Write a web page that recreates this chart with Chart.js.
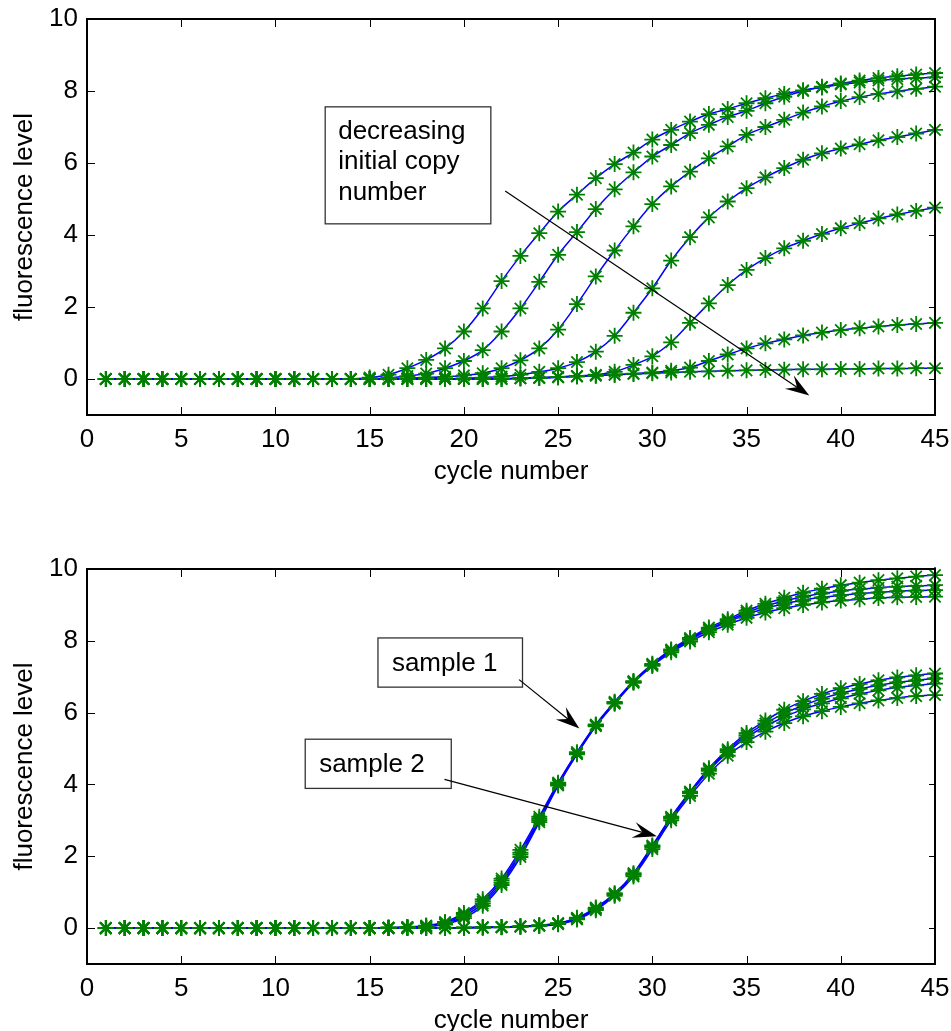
<!DOCTYPE html>
<html><head><meta charset="utf-8">
<script src="https://cdn.jsdelivr.net/npm/chart.js@4"></script>
<style>
html,body{margin:0;padding:0;background:#fff;overflow:hidden;width:951px;height:1031px}
canvas{position:absolute;left:0}
#c1{top:0}
#c2{top:540px}
</style></head><body>
<canvas id="c1" width="951" height="485"></canvas>
<canvas id="c2" width="951" height="494"></canvas>
<script>
const cycles = [1,2,3,4,5,6,7,8,9,10,11,12,13,14,15,16,17,18,19,20,21,22,23,24,25,26,27,28,29,30,31,32,33,34,35,36,37,38,39,40,41,42,43,44,45];
const xTicks = [0,5,10,15,20,25,30,35,40,45];
const yTicks = [0,2,4,6,8,10];

// top panel: decreasing initial copy number
const topA = [0,0,0,0,0,0,0,0,0,0,0,0,0,0,0.04,0.12,0.3,0.53,0.85,1.32,1.96,2.72,3.42,4.05,4.65,5.12,5.58,5.97,6.29,6.65,6.92,7.15,7.36,7.5,7.66,7.8,7.92,8.02,8.1,8.18,8.24,8.29,8.33,8.36,8.38];
const topB = [0,0,0,0,0,0,0,0,0,0,0,0,0,0,0,0.03,0.08,0.15,0.3,0.5,0.8,1.32,1.96,2.7,3.45,4.08,4.72,5.27,5.74,6.18,6.5,6.83,7.06,7.28,7.45,7.66,7.84,8.0,8.12,8.21,8.29,8.36,8.41,8.46,8.5];
const topC = [0,0,0,0,0,0,0,0,0,0,0,0,0,0,0,0,0.02,0.04,0.06,0.1,0.16,0.3,0.52,0.85,1.37,2.08,2.85,3.57,4.24,4.86,5.35,5.76,6.13,6.46,6.78,7.0,7.2,7.4,7.57,7.72,7.83,7.92,7.99,8.06,8.12];
const topD = [0,0,0,0,0,0,0,0,0,0,0,0,0,0,0,0,0,0,0,0.02,0.04,0.07,0.12,0.2,0.3,0.47,0.76,1.2,1.84,2.52,3.29,3.94,4.49,4.93,5.3,5.6,5.86,6.09,6.27,6.4,6.52,6.63,6.72,6.82,6.92];
const topE = [0,0,0,0,0,0,0,0,0,0,0,0,0,0,0,0,0,0,0,0,0,0.01,0.02,0.03,0.05,0.08,0.12,0.2,0.39,0.63,1.02,1.56,2.1,2.61,3.03,3.36,3.63,3.84,4.03,4.19,4.33,4.46,4.57,4.67,4.76];
const topF = [0,0,0,0,0,0,0,0,0,0,0,0,0,0,0,0,0,0,0,0,0,0,0.02,0.03,0.05,0.07,0.09,0.12,0.15,0.18,0.23,0.32,0.5,0.68,0.85,0.99,1.1,1.21,1.29,1.36,1.41,1.46,1.5,1.53,1.56];
const topG = [0,0,0,0,0,0,0,0,0,0,0,0,0,0,0,0,0,0,0,0,0,0,0.02,0.04,0.06,0.08,0.1,0.12,0.14,0.16,0.18,0.2,0.21,0.23,0.24,0.25,0.26,0.27,0.27,0.28,0.28,0.29,0.29,0.3,0.3];

// bottom panel: sample 1 and sample 2 replicates
const s1a = [0,0,0,0,0,0,0,0,0,0,0,0,0,0,0,0.01,0.03,0.07,0.17,0.42,0.8,1.38,2.18,3.1,4.05,4.9,5.67,6.3,6.88,7.36,7.76,8.08,8.37,8.6,8.84,9.03,9.2,9.34,9.45,9.55,9.62,9.69,9.74,9.79,9.83];
const s1b = [0,0,0,0,0,0,0,0,0,0,0,0,0,0,0,0.01,0.02,0.06,0.14,0.38,0.74,1.32,2.1,3.04,4.02,4.87,5.65,6.28,6.86,7.34,7.74,8.05,8.33,8.56,8.79,8.97,9.11,9.23,9.32,9.39,9.44,9.48,9.51,9.53,9.55];
const s1c = [0,0,0,0,0,0,0,0,0,0,0,0,0,0,0,0.01,0.02,0.05,0.12,0.33,0.68,1.26,2.05,3.0,4.0,4.86,5.64,6.27,6.85,7.33,7.72,8.03,8.3,8.52,8.74,8.9,9.03,9.13,9.21,9.27,9.32,9.35,9.38,9.4,9.41];
const s1d = [0,0,0,0,0,0,0,0,0,0,0,0,0,0,0,0.01,0.02,0.04,0.1,0.28,0.62,1.2,1.98,2.95,3.97,4.84,5.62,6.25,6.83,7.3,7.68,7.98,8.24,8.45,8.64,8.79,8.91,9.0,9.07,9.12,9.16,9.19,9.21,9.22,9.23];
const s2a = [0,0,0,0,0,0,0,0,0,0,0,0,0,0,0,0,0,0,0,0.01,0.02,0.03,0.05,0.08,0.14,0.29,0.57,0.97,1.53,2.3,3.1,3.8,4.45,4.98,5.43,5.78,6.08,6.32,6.52,6.68,6.8,6.9,6.98,7.04,7.09];
const s2b = [0,0,0,0,0,0,0,0,0,0,0,0,0,0,0,0,0,0,0,0.01,0.02,0.03,0.05,0.07,0.13,0.27,0.55,0.95,1.5,2.28,3.08,3.78,4.42,4.94,5.37,5.7,5.98,6.2,6.39,6.54,6.66,6.76,6.84,6.9,6.95];
const s2c = [0,0,0,0,0,0,0,0,0,0,0,0,0,0,0,0,0,0,0,0.01,0.02,0.03,0.04,0.07,0.12,0.26,0.53,0.93,1.48,2.25,3.05,3.75,4.38,4.9,5.31,5.62,5.88,6.09,6.26,6.4,6.52,6.62,6.7,6.76,6.81];
const s2d = [0,0,0,0,0,0,0,0,0,0,0,0,0,0,0,0,0,0,0,0.01,0.01,0.02,0.04,0.06,0.11,0.24,0.5,0.9,1.44,2.2,3.0,3.68,4.3,4.8,5.18,5.47,5.71,5.9,6.04,6.16,6.26,6.34,6.41,6.46,6.49];

const topSeries = [topA, topB, topC, topD, topE, topF, topG];
const botSeries = [s1a, s1b, s1c, s1d, s2a, s2b, s2c, s2d];

const FONT = 'Liberation Sans, Arial, Helvetica, sans-serif';

function datasetsFor(series){
  const ds = [];
  series.forEach(arr => {
    const pts = cycles.map((c,i)=>({x:c, y:arr[i]}));
    ds.push({data:pts, showLine:false, pointStyle:'star', pointRadius:8, pointBorderColor:'#008000',
      pointBackgroundColor:'#008000', pointBorderWidth:1.8, order:0, clip:false});
    ds.push({data:pts, showLine:true, borderColor:'#0000ff', borderWidth:1.5, pointRadius:0,
      cubicInterpolationMode:'monotone', order:1});
  });
  return ds;
}

const framePlugin = {
  id:'frame',
  afterDraw(chart){
    const {ctx, chartArea:a, scales:{x,y}} = chart;
    ctx.save();
    ctx.strokeStyle='#000'; ctx.lineWidth=1;
    ctx.beginPath();
    xTicks.forEach(v=>{
      const px=Math.round(x.getPixelForValue(v))+0.5;
      ctx.moveTo(px,a.bottom); ctx.lineTo(px,a.bottom-8);
      ctx.moveTo(px,a.top); ctx.lineTo(px,a.top+8);
    });
    yTicks.forEach(v=>{
      const py=Math.round(y.getPixelForValue(v))+0.5;
      ctx.moveTo(a.left,py); ctx.lineTo(a.left+8,py);
      ctx.moveTo(a.right,py); ctx.lineTo(a.right-6,py);
    });
    ctx.stroke();
    ctx.lineWidth=2;
    ctx.strokeRect(a.left,a.top,a.right-a.left,a.bottom-a.top);
    ctx.restore();
  }
};

const annotPlugin = {
  id:'annot',
  afterDatasetsDraw(chart, args, opts){
    const {ctx, scales:{x,y}} = chart;
    ctx.save();
    (opts.boxes||[]).forEach(b=>{
      const l=x.getPixelForValue(b.x0), r=x.getPixelForValue(b.x1);
      const t=y.getPixelForValue(b.y1), bt=y.getPixelForValue(b.y0);
      ctx.fillStyle='#fff'; ctx.fillRect(l,t,r-l,bt-t);
      ctx.strokeStyle='#333'; ctx.lineWidth=1.3; ctx.strokeRect(l,t,r-l,bt-t);
      ctx.fillStyle='#000'; ctx.font='26px '+FONT; ctx.textAlign='left'; ctx.textBaseline='middle';
      b.lines.forEach((s,i)=>{ ctx.fillText(s, x.getPixelForValue(b.tx), y.getPixelForValue(b.ty[i])); });
    });
    (opts.arrows||[]).forEach(ar=>{
      const x0=x.getPixelForValue(ar.from[0]), y0=y.getPixelForValue(ar.from[1]);
      const x1=x.getPixelForValue(ar.to[0]), y1=y.getPixelForValue(ar.to[1]);
      const dx=x1-x0, dy=y1-y0, len=Math.hypot(dx,dy), ux=dx/len, uy=dy/len, nx=-uy, ny=ux;
      const L=24, W=8, N=0.62;
      ctx.strokeStyle='#000'; ctx.lineWidth=1.2;
      ctx.beginPath(); ctx.moveTo(x0,y0); ctx.lineTo(x1-ux*L*N, y1-uy*L*N); ctx.stroke();
      ctx.fillStyle='#000';
      ctx.beginPath();
      ctx.moveTo(x1,y1);
      ctx.lineTo(x1-ux*L+nx*W, y1-uy*L+ny*W);
      ctx.lineTo(x1-ux*L*N, y1-uy*L*N);
      ctx.lineTo(x1-ux*L-nx*W, y1-uy*L-ny*W);
      ctx.closePath(); ctx.fill();
    });
    ctx.restore();
  }
};

function makeChart(id, series, padTop, annot){
  return new Chart(document.getElementById(id), {
    type:'scatter',
    data:{datasets:datasetsFor(series)},
    options:{
      responsive:false, animation:false, devicePixelRatio:1,
      layout:{padding:{top:padTop,left:0,right:16,bottom:0}, autoPadding:false},
      plugins:{legend:{display:false}, tooltip:{enabled:false}, annot:annot},
      scales:{
        x:{type:'linear', min:0, max:45,
          afterBuildTicks:s=>{s.ticks=xTicks.map(v=>({value:v}));},
          afterFit:s=>{s.height=70;},
          grid:{display:false, drawTicks:false}, border:{display:false},
          ticks:{color:'#000', padding:1, font:{family:FONT,size:26,lineHeight:1.82}, maxRotation:0, autoSkip:false},
          title:{display:true, text:'cycle number', color:'#000', font:{family:FONT,size:26}, padding:{top:0,bottom:-2}}},
        y:{type:'linear', min:-1, max:10,
          afterBuildTicks:s=>{s.ticks=yTicks.map(v=>({value:v}));},
          afterFit:s=>{s.width=87;},
          grid:{display:false, drawTicks:false}, border:{display:false},
          ticks:{color:'#000', padding:9, font:{family:FONT,size:26,lineHeight:0.7}},
          title:{display:true, text:'fluorescence level', color:'#000', font:{family:FONT,size:26}, padding:{top:9,bottom:0}}}
      }
    },
    plugins:[annotPlugin, framePlugin]
  });
}

makeChart('c1', topSeries, 19, {
  boxes:[{x0:12.64, x1:21.43, y0:4.31, y1:7.56, tx:13.33, ty:[6.87,6.04,5.18],
          lines:['decreasing','initial copy','number']}],
  arrows:[{from:[22.19,5.22], to:[38.33,-0.46]}]
});
makeChart('c2', botSeries, 29, {
  boxes:[{x0:15.44, x1:23.11, y0:6.71, y1:8.08, tx:16.18, ty:[7.37], lines:['sample 1']},
         {x0:11.58, x1:19.33, y0:3.89, y1:5.26, tx:12.32, ty:[4.56], lines:['sample 2']}],
  arrows:[{from:[22.93,6.92], to:[26.13,5.56]}, {from:[18.97,4.14], to:[30.24,2.56]}]
});
</script>
</body></html>
